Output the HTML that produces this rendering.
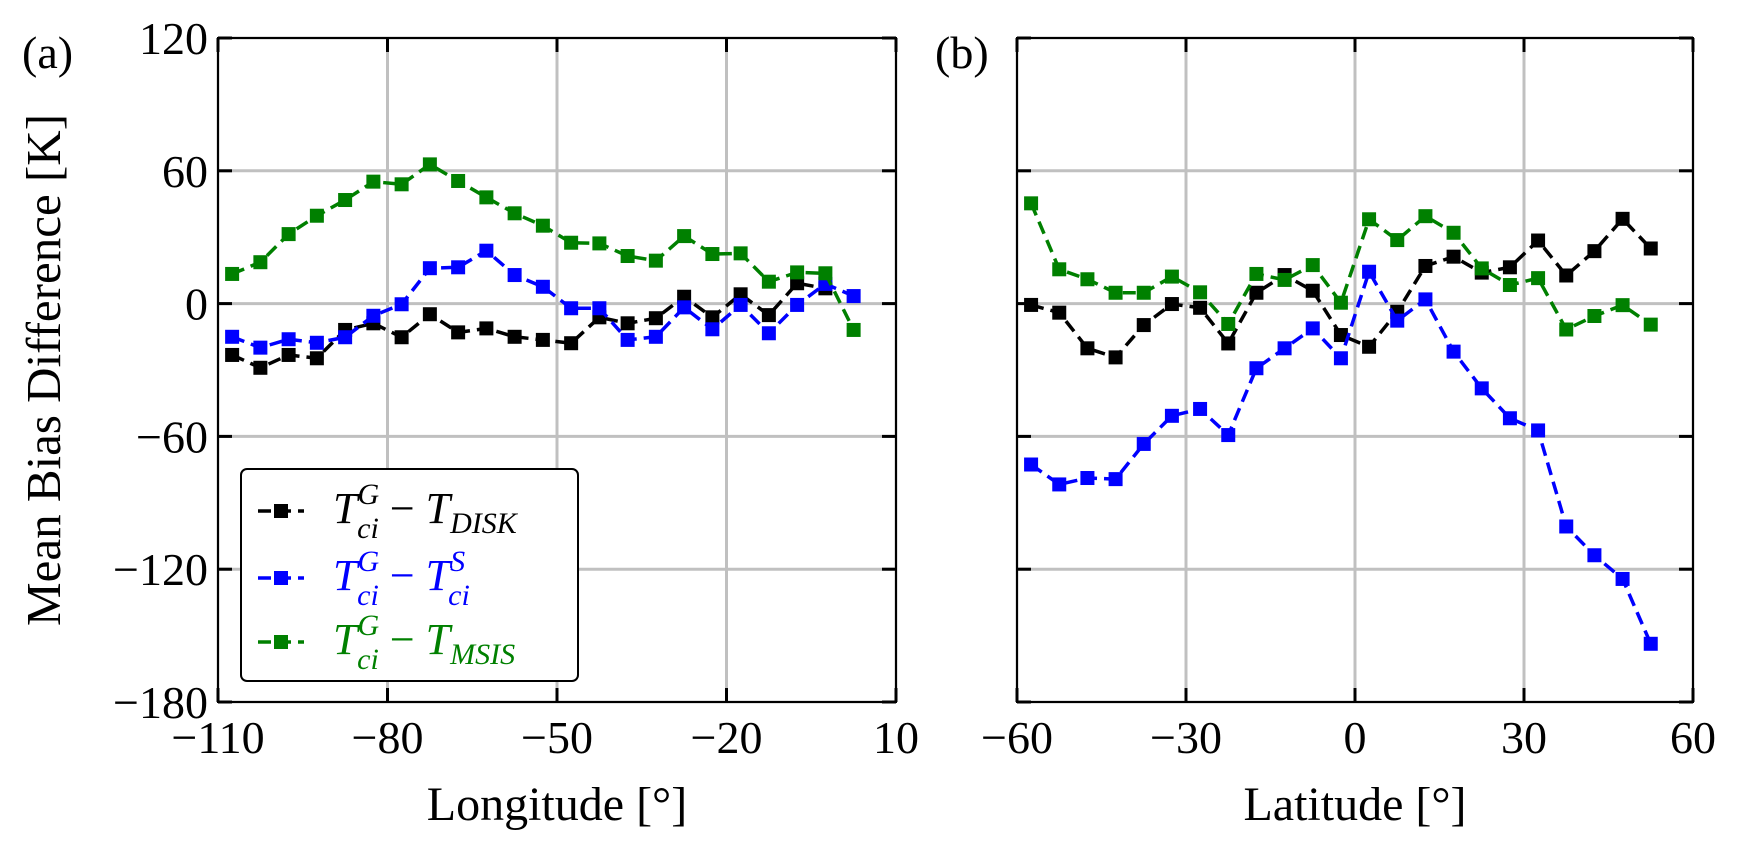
<!DOCTYPE html>
<html><head><meta charset="utf-8">
<style>
html,body{margin:0;padding:0;background:#fff;}
svg{display:block;font-family:"Liberation Serif",serif;}
</style></head>
<body>
<svg id="chart" width="1740" height="846" viewBox="0 0 1740 846" xmlns="http://www.w3.org/2000/svg"></svg>
<script>
// Panel (a) data — longitude
const lonVals = [-107.5,-102.5,-97.5,-92.5,-87.5,-82.5,-77.5,-72.5,-67.5,-62.5,-57.5,-52.5,-47.5,-42.5,-37.5,-32.5,-27.5,-22.5,-17.5,-12.5,-7.5,-2.5,2.5];
const lonDisk = [-23.2,-29,-23.2,-24.7,-11.9,-8.9,-15.2,-4.8,-13,-11.2,-15,-16.4,-17.9,-6.2,-8.9,-6.6,3.1,-6.2,4.2,-5.2,9.2,6.9];
const lonS = [-15,-19.9,-16.1,-17.7,-15.2,-5.5,-0.3,16,16.4,23.9,12.9,7.6,-2.1,-2.1,-16.4,-15,-1.7,-11.6,-0.6,-13.4,-0.6,8.9,3.4];
const lonMsis = [13.4,18.7,31.4,39.7,46.8,55.1,53.9,62.9,55.4,48,40.8,35.2,27.5,27.2,21.5,19.4,30.5,22.4,22.7,9.9,14.1,13.7,-11.9];
// Panel (b) data — latitude
const latVals = [-57.5,-52.5,-47.5,-42.5,-37.5,-32.5,-27.5,-22.5,-17.5,-12.5,-7.5,-2.5,2.5,7.5,12.5,17.5,22.5,27.5,32.5,37.5,42.5,47.5,52.5];
const latDisk = [-0.6,-4.1,-20.2,-24.3,-9.7,-0.2,-1.9,-18,4.9,12.9,5.8,-14.2,-19.5,-3.7,17,21.2,14,16.4,28.5,12.7,23.7,38.3,24.9];
const latS = [-72.7,-81.7,-78.8,-79.3,-63.4,-50.7,-47.6,-59.4,-29.2,-20.2,-11.2,-24.7,14.4,-7.7,1.9,-21.7,-38.3,-51.8,-57.3,-100.7,-113.7,-124.4,-153.7];
const latMsis = [45.3,15.5,11,4.9,4.9,12.2,5.1,-9.2,13.4,10.7,17.4,0.4,38.1,28.7,39.5,32,15.9,8.4,11.5,-11.7,-5.6,-0.7,-9.5];
const yTicks = [120,60,0,-60,-120,-180];
const yTickLabels = ["120","60","0","\u221260","\u2212120","\u2212180"];
const lonTicks = [-110,-80,-50,-20,10];
const lonTickLabels = ["\u2212110","\u221280","\u221250","\u221220","10"];
const latTicks = [-60,-30,0,30,60];
const latTickLabels = ["\u221260","\u221230","0","30","60"];

const NS="http://www.w3.org/2000/svg";
const svg=document.getElementById('chart');
function mk(tag,attrs,parent){const e=document.createElementNS(NS,tag);for(const k in attrs)e.setAttribute(k,attrs[k]);(parent||svg).appendChild(e);return e;}

const yTop=38,yBot=702;
const yScale=v=>yTop+(120-v)/300*(yBot-yTop);

function panel(name,x0,x1,xmin,xmax,xs,xTicks,xLabels,series,title,tag,tagX,showY){
  const g=mk('g',{});
  
  
  const xScale=v=>x0+(v-xmin)/(xmax-xmin)*(x1-x0);
  xTicks.forEach(t=>{const l=mk('line',{x1:xScale(t),x2:xScale(t),y1:yTop,y2:yBot,stroke:'#c0c0c0','stroke-width':3},g);
    
    });
  yTicks.forEach(t=>{const l=mk('line',{x1:x0,x2:x1,y1:yScale(t),y2:yScale(t),stroke:'#c0c0c0','stroke-width':3},g);
    
    });
  series.forEach(s=>{
    const pts=s.y.map((v,i)=>xScale(xs[i])+','+yScale(v)).join(' ');
    const pl=mk('polyline',{points:pts,fill:'none',stroke:s.c,'stroke-width':3.5,'stroke-dasharray':'13,7'},g);
    
    
    s.y.forEach((v,i)=>{const r=mk('rect',{x:xScale(xs[i])-7,y:yScale(v)-7,width:14,height:14,fill:s.c},g);
      
      });
  });
  const fr=mk('rect',{x:x0,y:yTop,width:x1-x0,height:yBot-yTop,fill:'none',stroke:'#000','stroke-width':2},g);
  
  
  xTicks.forEach((t,i)=>{const x=xScale(t);
    mk('line',{x1:x,x2:x,y1:yBot,y2:yBot-14,stroke:'#000','stroke-width':3},g);
    mk('line',{x1:x,x2:x,y1:yTop,y2:yTop+14,stroke:'#000','stroke-width':3},g);
    const tx=mk('text',{x:x,y:753,'font-size':46,'text-anchor':'middle',fill:'#000'},g);
    tx.textContent=xLabels[i];
    
    });
  yTicks.forEach((t,i)=>{const y=yScale(t);
    mk('line',{x1:x0,x2:x0+14,y1:y,y2:y,stroke:'#000','stroke-width':3},g);
    mk('line',{x1:x1,x2:x1-14,y1:y,y2:y,stroke:'#000','stroke-width':3},g);
    if(showY){const tx=mk('text',{x:x0-10,y:y+16,'font-size':46,'text-anchor':'end',fill:'#000'},g);
      tx.textContent=yTickLabels[i];
      
      }});
  const tt=mk('text',{x:(x0+x1)/2,y:820,'font-size':48,'text-anchor':'middle',fill:'#000'},g);
  tt.textContent=title;
  
  
  const pt=mk('text',{x:tagX,y:68,'font-size':46,fill:'#000'},g);
  pt.textContent=tag;
  
  
}
panel('panel-a-longitude',218,896,-110,10,lonVals,lonTicks,lonTickLabels,
 [{n:'t-disk',c:'#000',y:lonDisk},{n:'t-s',c:'#0000ff',y:lonS},{n:'t-msis',c:'#008000',y:lonMsis}],
 'Longitude [\u00b0]','(a)',22,true);
panel('panel-b-latitude',1017,1693,-60,60,latVals,latTicks,latTickLabels,
 [{n:'t-disk',c:'#000',y:latDisk},{n:'t-s',c:'#0000ff',y:latS},{n:'t-msis',c:'#008000',y:latMsis}],
 'Latitude [\u00b0]','(b)',935,false);

const yt=mk('text',{x:0,y:0,'font-size':49,'text-anchor':'middle',fill:'#000',transform:'translate(60,370) rotate(-90)'});
yt.textContent='Mean Bias Difference [K]';



const lg=mk('g',{});


mk('rect',{x:241,y:469,width:337,height:212,rx:6,fill:'#fff',stroke:'#000','stroke-width':2},lg);
const entries=[
 {c:'#000',y:511,main:'DISK',sup2:''},
 {c:'#0000ff',y:578,main:'ci',sup2:'S'},
 {c:'#008000',y:642,main:'MSIS',sup2:''}];
entries.forEach(e=>{
  const eg=mk('g',{},lg);
  
  
  mk('line',{x1:258,x2:304,y1:e.y,y2:e.y,stroke:e.c,'stroke-width':3.5,'stroke-dasharray':'13,7'},eg);
  mk('rect',{x:274,y:e.y-7,width:14,height:14,fill:e.c},eg);
  const t=mk('text',{x:333,y:e.y+12,'font-size':44,fill:e.c,'font-style':'italic'},eg);
  let html='T<tspan font-size="30" dy="-19">G</tspan><tspan font-size="30" dx="-22" dy="34">ci</tspan><tspan dy="-15" font-style="normal"> \u2212 </tspan>T';
  if(e.sup2) html+='<tspan font-size="30" dy="-19">S</tspan><tspan font-size="30" dx="-17" dy="34">ci</tspan>';
  else html+='<tspan font-size="30" dy="10">'+e.main+'</tspan>';
  t.innerHTML=html;
});
</script>
</body></html>
